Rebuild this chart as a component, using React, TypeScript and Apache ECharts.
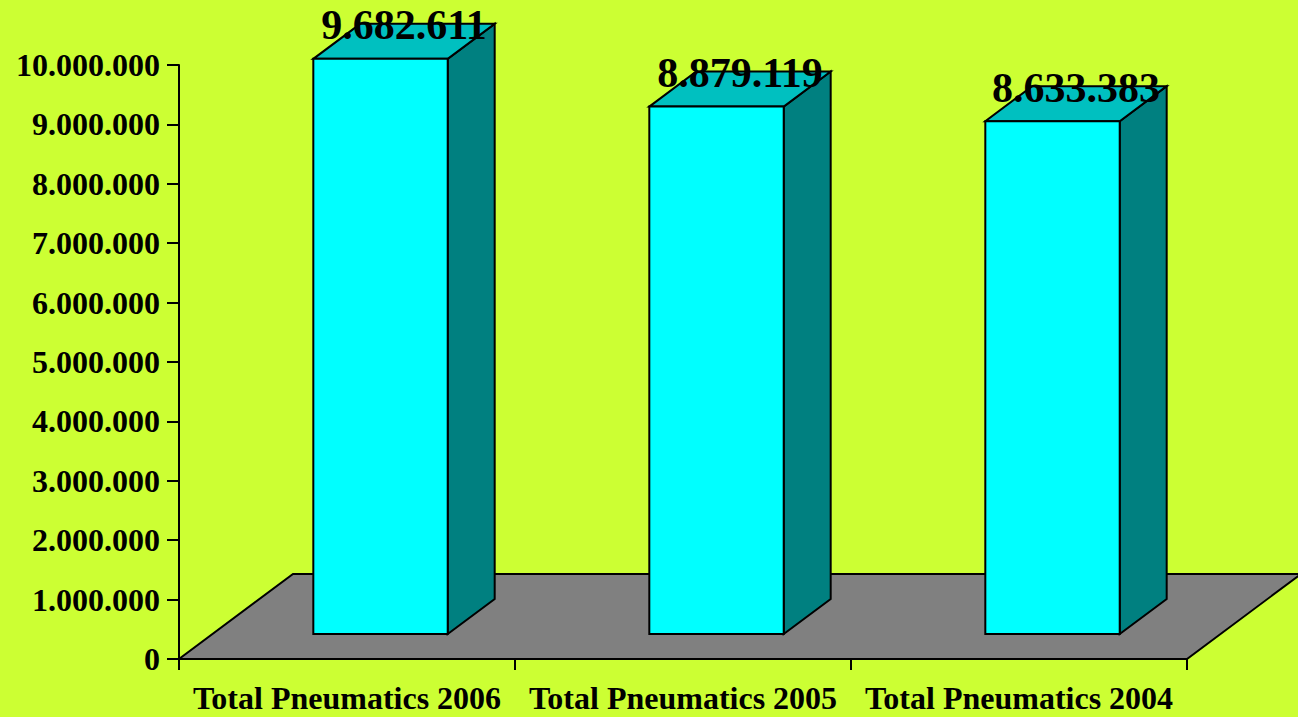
import React, { useEffect, useRef } from "react";
import * as echarts from "echarts";

const categories = ["Total Pneumatics 2006", "Total Pneumatics 2005", "Total Pneumatics 2004"];
const values = [9682611, 8879119, 8633383];
const yMin = 0;
const yMax = 10000000;
const yInterval = 1000000;

const FONT = '"Liberation Serif", "Times New Roman", serif';

function fmt(n: number): string {
  const s = Math.round(n).toString();
  return s.replace(/\B(?=(\d{3})+(?!\d))/g, ".");
}

export default function App() {
  const ref = useRef<HTMLDivElement>(null);
  useEffect(() => {
    document.body.style.margin = "0";
    const chart = echarts.init(ref.current!, null, { renderer: "svg" });
    // perspective depth of the floor (pixels) and bar placement within it
    const DX = 114;
    const DY = -85;
    const f0 = 0.294;
    const f1 = 0.706;
    const barFrac = 0.4;
    const LW = 2;

    const option: any = {
      animation: false,
      backgroundColor: "#CCFF33",
      grid: { left: 179, right: 111, top: 65, bottom: 58, containLabel: false, outerBoundsMode: "none" },
      xAxis: {
        type: "category",
        data: categories,
        boundaryGap: true,
        axisLine: { show: true, lineStyle: { color: "#000", width: LW } },
        axisTick: { show: true, interval: 0, length: 11, alignWithLabel: false, lineStyle: { color: "#000", width: LW } },
        axisLabel: {
          color: "#000",
          fontSize: 32,
          fontWeight: "bold",
          fontFamily: FONT,
          margin: 23,
          interval: 0,
          hideOverlap: false,
        },
        splitLine: { show: false },
        z: 10,
      },
      yAxis: {
        type: "value",
        min: yMin,
        max: yMax,
        interval: yInterval,
        axisLine: { show: true, lineStyle: { color: "#000", width: LW } },
        axisTick: { show: true, length: 12, inside: false, lineStyle: { color: "#000", width: LW } },
        axisLabel: {
          color: "#000",
          fontSize: 32,
          fontWeight: "bold",
          fontFamily: FONT,
          margin: 19,
          formatter: (v: number) => fmt(v),
        },
        splitLine: { show: false },
      },
      series: [
        {
          type: "custom",
          z: 1,
          silent: true,
          data: [[0, 0]],
          encode: { x: 0, y: 1 },
          renderItem: (params: any) => {
            const cs = params.coordSys;
            const x0 = cs.x;
            const x1 = cs.x + cs.width;
            const y0 = cs.y + cs.height;
            return {
              type: "polygon",
              shape: {
                points: [
                  [x0, y0],
                  [x1, y0],
                  [x1 + DX, y0 + DY],
                  [x0 + DX, y0 + DY],
                ],
              },
              style: { fill: "#808080", stroke: "#000", lineWidth: LW },
            };
          },
        },
        {
          type: "custom",
          z: 2,
          data: categories.map((c, i) => [i, values[i]]),
          encode: { x: 0, y: 1 },
          renderItem: (params: any, api: any) => {
            const idx = api.value(0);
            const val = api.value(1);
            const base = api.coord([idx, 0]);
            const top = api.coord([idx, val]);
            const band = api.size([1, 0])[0];
            const w = band * barFrac;
            const ox = DX * f0;
            const oy = DY * f0;
            const dx = DX * (f1 - f0);
            const dy = DY * (f1 - f0);
            const xl = base[0] - w / 2 + ox;
            const xr = base[0] + w / 2 + ox;
            const yb = base[1] + oy;
            const yt = top[1] + oy;
            const stroke = { stroke: "#000", lineWidth: LW };
            return {
              type: "group",
              children: [
                {
                  type: "polygon",
                  shape: { points: [[xr, yb], [xr + dx, yb + dy], [xr + dx, yt + dy], [xr, yt]] },
                  style: { fill: "#008080", ...stroke },
                },
                {
                  type: "polygon",
                  shape: { points: [[xl, yt], [xr, yt], [xr + dx, yt + dy], [xl + dx, yt + dy]] },
                  style: { fill: "#00C0C0", ...stroke },
                },
                {
                  type: "polygon",
                  shape: { points: [[xl, yb], [xr, yb], [xr, yt], [xl, yt]] },
                  style: { fill: "#00FFFF", ...stroke },
                },
                {
                  type: "text",
                  x: (xl + xr) / 2 + dx / 2,
                  y: yt + dy / 2 - 16,
                  style: {
                    text: fmt(val),
                    fill: "#000",
                    fontSize: 42,
                    fontWeight: "bold",
                    fontFamily: FONT,
                    align: "center",
                    verticalAlign: "middle",
                  },
                },
              ],
            };
          },
        },
      ],
    };
    chart.setOption(option);
    return () => chart.dispose();
  }, []);
  return <div ref={ref} style={{ width: 1298, height: 717, background: "#CCFF33" }} />;
}
